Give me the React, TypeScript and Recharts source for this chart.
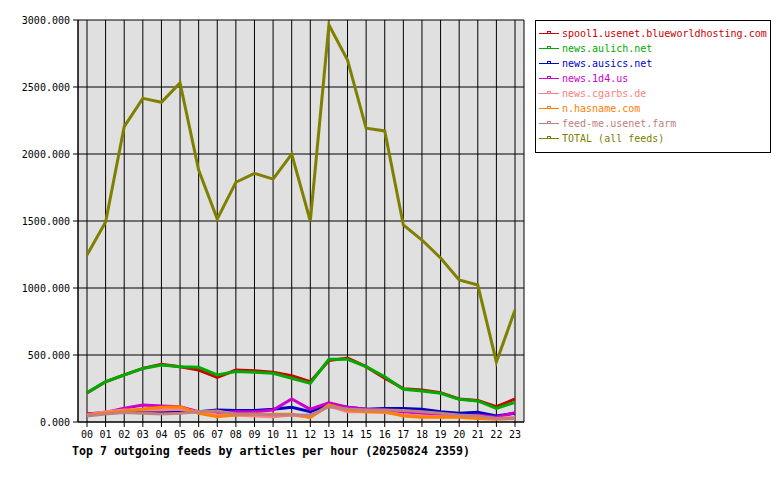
import { LineChart, Line, XAxis, YAxis, CartesianGrid } from "recharts";

const hours = ["00","01","02","03","04","05","06","07","08","09","10","11","12","13","14","15","16","17","18","19","20","21","22","23"];

const spool1 = [216, 300, 352, 400, 430, 413, 388, 333, 388, 383, 371, 346, 301, 458, 478, 413, 326, 249, 239, 219, 172, 160, 114, 172];
const aulich = [219, 301, 351, 400, 425, 413, 408, 351, 376, 371, 363, 326, 289, 468, 468, 413, 338, 244, 231, 214, 169, 157, 102, 147];
const ausics = [60, 65, 77, 82, 77, 80, 77, 90, 85, 85, 95, 110, 77, 127, 110, 95, 100, 100, 95, 77, 65, 72, 45, 65];
const d14 = [60, 72, 102, 127, 119, 114, 77, 65, 77, 77, 90, 172, 95, 144, 110, 95, 90, 77, 65, 52, 45, 52, 35, 70];
const cgarbs = [52, 77, 90, 90, 90, 95, 77, 52, 52, 45, 40, 52, 35, 119, 77, 77, 70, 52, 45, 40, 40, 35, 27, 35];
const hasname = [52, 65, 82, 97, 110, 114, 65, 40, 52, 57, 57, 57, 35, 127, 90, 77, 77, 45, 35, 35, 35, 27, 20, 27];
const feedme = [45, 60, 70, 65, 60, 65, 77, 82, 60, 60, 52, 52, 52, 114, 97, 90, 90, 85, 77, 65, 52, 45, 27, 27];
const total = [1246, 1492, 2204, 2415, 2386, 2531, 1880, 1515, 1789, 1856, 1813, 2000, 1500, 2963, 2701, 2192, 2172, 1470, 1358, 1224, 1060, 1022, 448, 836];

const yTicks = [0, 500, 1000, 1500, 2000, 2500, 3000];

const feeds = [
  { key: "spool1", name: "spool1.usenet.blueworldhosting.com", color: "#cc0000", values: spool1 },
  { key: "aulich", name: "news.aulich.net", color: "#00aa00", values: aulich },
  { key: "ausics", name: "news.ausics.net", color: "#0000cc", values: ausics },
  { key: "d14", name: "news.1d4.us", color: "#cc00cc", values: d14 },
  { key: "cgarbs", name: "news.cgarbs.de", color: "#ff8080", values: cgarbs },
  { key: "hasname", name: "n.hasname.com", color: "#ff8000", values: hasname },
  { key: "feedme", name: "feed-me.usenet.farm", color: "#c08080", values: feedme },
  { key: "total", name: "TOTAL (all feeds)", color: "#808000", values: total },
];

const data = hours.map((h, i) => {
  const row: Record<string, string | number> = { hour: h };
  feeds.forEach((f) => {
    row[f.key] = f.values[i];
  });
  return row;
});

const font = "'DejaVu Sans Mono', monospace";

function FeedLegend() {
  return (
    <div
      style={{
        position: "absolute",
        left: 535,
        top: 20,
        width: 236,
        height: 133,
        border: "1px solid #000",
        background: "#fff",
        fontFamily: font,
        fontSize: 10,
        paddingTop: 5,
        boxSizing: "border-box",
      }}
    >
      {feeds.map((f) => (
        <div key={f.key} style={{ display: "flex", alignItems: "center", height: 15, color: f.color }}>
          <svg width={24} height={15} style={{ marginLeft: 2 }}>
            <line x1={1} y1={7.5} x2={21} y2={7.5} stroke={f.color} strokeWidth={1} />
            <rect x={9.5} y={5.5} width={3} height={2} fill="#fff" stroke={f.color} strokeWidth={1} />
          </svg>
          <span style={{ whiteSpace: "nowrap" }}>{f.name}</span>
        </div>
      ))}
    </div>
  );
}

export default function App() {
  return (
    <div style={{ position: "absolute", left: 0, top: 0, width: 780, height: 480, background: "#fff" }}>
      <LineChart width={780} height={480} data={data} margin={{ top: 20, right: 256, bottom: 38, left: 0 }}>
        <CartesianGrid stroke="#000" fill="#e0e0e0" yAxisId="left" />
        <XAxis
          dataKey="hour"
          padding={{ left: 9, right: 9 }}
          stroke="#000"
          tickSize={5}
          tickMargin={4}
          interval={0}
          height={20}
          tick={{ fill: "#000", fontFamily: font, fontSize: 10 }}
        />
        <YAxis
          yAxisId="left"
          domain={[0, 3000]}
          ticks={yTicks}
          width={78}
          stroke="#000"
          tickSize={5}
          tickMargin={3}
          tickFormatter={(v: number) => v.toFixed(3)}
          tick={{ fill: "#000", fontFamily: font, fontSize: 10 }}
        />
        <YAxis yAxisId="right" orientation="right" width={0} tick={false} stroke="#000" domain={[0, 3000]} />
        {feeds.map((f) => (
          <Line
            key={f.key}
            yAxisId="left"
            type="linear"
            dataKey={f.key}
            name={f.name}
            stroke={f.color}
            strokeWidth={3}
            dot={false}
            activeDot={false}
            isAnimationActive={false}
          />
        ))}
      </LineChart>
      <FeedLegend />
      <div
        style={{
          position: "absolute",
          left: 72,
          top: 444,
          fontFamily: font,
          fontSize: 11.6,
          fontWeight: "bold",
          whiteSpace: "nowrap",
          color: "#000",
        }}
      >
        Top 7 outgoing feeds by articles per hour (20250824 2359)
      </div>
    </div>
  );
}
